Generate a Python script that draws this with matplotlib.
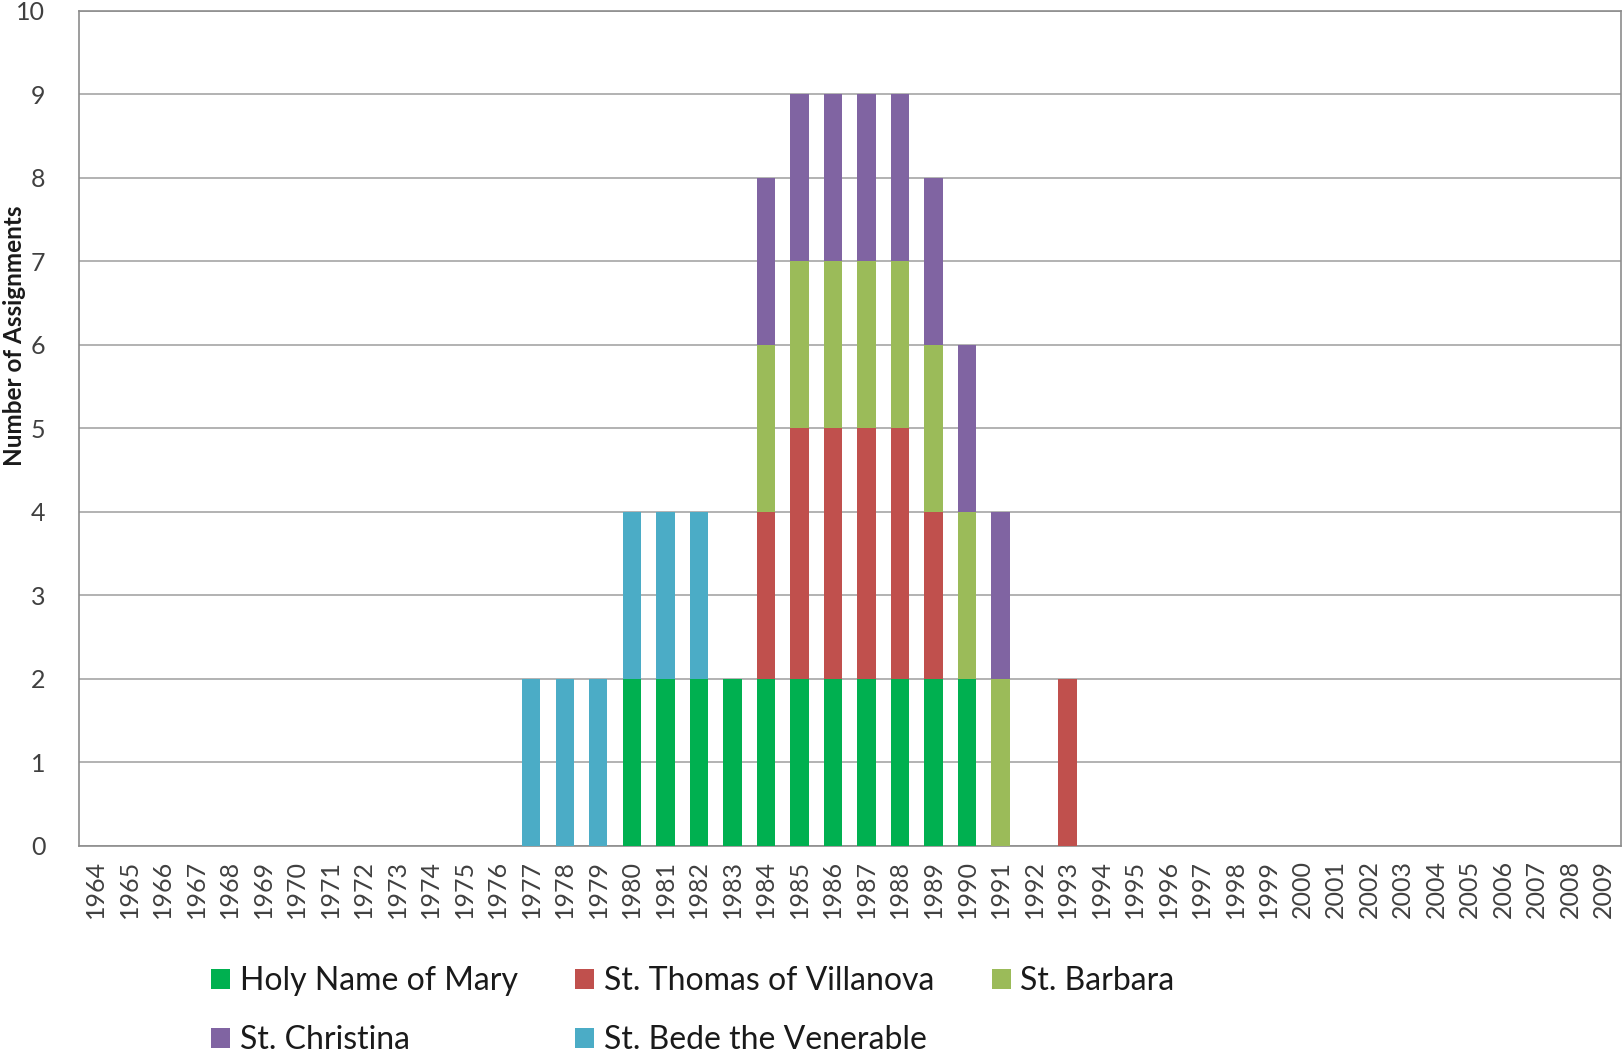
import numpy as np
import matplotlib
matplotlib.use('Agg')
import matplotlib.pyplot as plt
from matplotlib.patches import Patch

years = list(range(1964, 2010))

# assignments per parish, keyed by year (all other years are 0)
holy_name = {1980: 2, 1981: 2, 1982: 2, 1983: 2, 1984: 2, 1985: 2, 1986: 2,
             1987: 2, 1988: 2, 1989: 2, 1990: 2}
st_thomas = {1984: 2, 1985: 3, 1986: 3, 1987: 3, 1988: 3, 1989: 2, 1993: 2}
st_barbara = {1984: 2, 1985: 2, 1986: 2, 1987: 2, 1988: 2, 1989: 2, 1990: 2, 1991: 2}
st_christina = {1984: 2, 1985: 2, 1986: 2, 1987: 2, 1988: 2, 1989: 2, 1990: 2, 1991: 2}
st_bede = {1977: 2, 1978: 2, 1979: 2, 1980: 2, 1981: 2, 1982: 2}

series_names = ["Holy Name of Mary", "St. Thomas of Villanova", "St. Barbara",
                "St. Christina", "St. Bede the Venerable"]
series_data = [holy_name, st_thomas, st_barbara, st_christina, st_bede]
colors = ["#00B050", "#C0504D", "#9BBB59", "#8064A2", "#4BACC6"]

plt.rcParams['font.family'] = ['Lato', 'DejaVu Sans']

fig = plt.figure(figsize=(16.23, 10.61), dpi=100)
ax = fig.add_axes([0.0485, 0.203, 0.9500, 0.787])

x = np.arange(len(years))
bottom = np.zeros(len(years))
for name, data, col in zip(series_names, series_data, colors):
    vals = np.array([data.get(y, 0) for y in years], dtype=float)
    ax.bar(x, vals, width=0.55, bottom=bottom, color=col, zorder=3, linewidth=0)
    bottom += vals

ax.set_xlim(-0.5, len(years) - 0.5)
ax.set_ylim(0, 10)
ax.set_yticks(range(0, 11))
ax.set_xticks(x)
ax.set_xticklabels([str(y) for y in years], rotation=90, fontsize=18, color='#404040')
ax.tick_params(axis='y', labelsize=18, labelcolor='#404040', length=0, pad=24)
ax.tick_params(axis='x', length=0, pad=10)
ax.grid(axis='y', color='#A6A6A6', linewidth=1.2, zorder=0)
for s in ax.spines.values():
    s.set_color('#8C8C8C')
    s.set_linewidth(1.2)

fig.text(14.5 / 1623, 1 - 336 / 1061, "Number of Assignments", rotation=90,
         ha='center', va='center', fontsize=17.5, fontweight='bold', color='#1a1a1a')

# row-wise legend order for a 3-column layout
handles = [Patch(facecolor=c, edgecolor='none') for c in colors]
order = [0, 3, 1, 4, 2]
ax.legend([handles[i] for i in order], [series_names[i] for i in order],
          ncol=3, loc='upper left', bbox_to_anchor=(0.067, -0.110),
          frameon=False, fontsize=23, handlelength=0.6, handleheight=0.6,
          handletextpad=0.3, columnspacing=1.8, labelspacing=0.9,
          labelcolor='#1a1a1a')

fig.savefig("out.png", dpi=100)
